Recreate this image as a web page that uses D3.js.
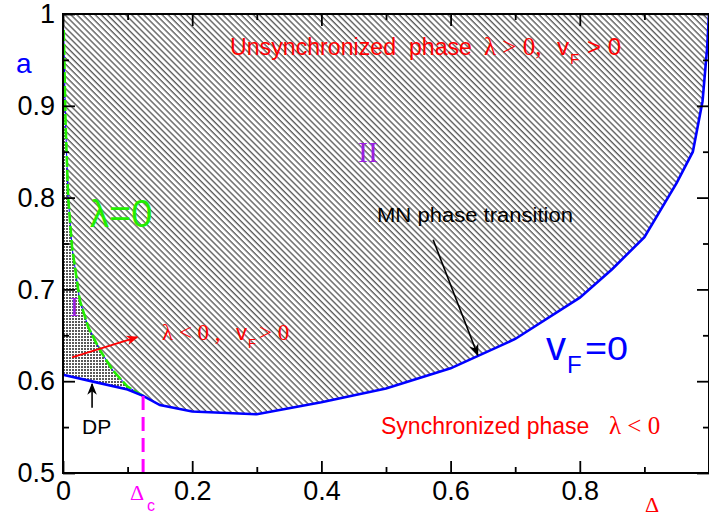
<!DOCTYPE html>
<html>
<head>
<meta charset="utf-8">
<script src="https://cdn.jsdelivr.net/npm/d3@7"></script>
<style>
  body { margin: 0; background: #fff; }
  svg { display: block; }
  text { font-family: "Liberation Sans", Arial, sans-serif; }
  .serif { font-family: "Liberation Serif", "Times New Roman", serif; }
</style>
</head>
<body>
<div id="chart"></div>
<script>
// v_F = 0 boundary (blue)
const vfDelta = [0, 0.05, 0.1, 0.124, 0.15, 0.2, 0.3, 0.4, 0.5, 0.6, 0.7, 0.8, 0.85, 0.9, 0.95, 0.975, 0.99, 0.997, 1.0]
const vfA     = [0.607, 0.599, 0.591, 0.584, 0.574, 0.567, 0.564, 0.577, 0.592, 0.614, 0.646, 0.691, 0.722, 0.757, 0.816, 0.85, 0.905, 0.962, 1.0]

// lambda = 0 boundary (green dashed)
const lamDelta = [0.124, 0.1, 0.077, 0.057, 0.039, 0.026, 0.014, 0.008, 0.004, 0.002, 0.001]
const lamA     = [0.584, 0.594, 0.612, 0.634, 0.659, 0.688, 0.746, 0.80, 0.88, 0.95, 0.985]

const deltaC = 0.124

const xMajor = [0, 0.2, 0.4, 0.6, 0.8, 1.0]
const xMinor = [0.1, 0.3, 0.5, 0.7, 0.9]
const yMajor = [0.5, 0.6, 0.7, 0.8, 0.9, 1.0]
const yMinor = [0.55, 0.65, 0.75, 0.85, 0.95]

const W = 709, H = 516
const PLOT = { LEFT: 63, RIGHT: 709, TOP: 14, BOTTOM: 473 }

const svg = d3.select("#chart").append("svg")
    .attr("width", W)
    .attr("height", H)

const x = d3.scaleLinear().domain([0, 1]).range([PLOT.LEFT, PLOT.RIGHT])
const y = d3.scaleLinear().domain([0.5, 1]).range([PLOT.BOTTOM, PLOT.TOP])

const defs = svg.append("defs")

// diagonal hatch for region II
const hatch = defs.append("pattern")
    .attr("id", "hatch")
    .attr("patternUnits", "userSpaceOnUse")
    .attr("width", 4.3)
    .attr("height", 10)
    .attr("patternTransform", "rotate(-45)")
hatch.append("line")
    .attr("x1", 1).attr("x2", 1)
    .attr("y1", 0).attr("y2", 10)
    .attr("stroke", "#333")
    .attr("stroke-width", 1.1)

// fine dots for region I
const dots = defs.append("pattern")
    .attr("id", "dots")
    .attr("patternUnits", "userSpaceOnUse")
    .attr("width", 3)
    .attr("height", 3)
dots.append("rect").attr("width", 3).attr("height", 3).attr("fill", "#fff")
dots.append("rect").attr("width", 2).attr("height", 2).attr("fill", "#5a5a5a")

// arrow heads
const addMarker = (id, color) => {
    defs.append("marker")
        .attr("id", id)
        .attr("viewBox", "0 0 10 10")
        .attr("refX", 9).attr("refY", 5)
        .attr("markerWidth", 12).attr("markerHeight", 12)
        .attr("markerUnits", "userSpaceOnUse")
        .attr("orient", "auto")
        .append("path")
        .attr("d", "M0,1 L10,5 L0,9 L3,5 Z")
        .attr("fill", color)
}
addMarker("arrRed", "#ff0000")
addMarker("arrBlack", "#000")

const vfPts = vfDelta.map((d, i) => [d, vfA[i]])
const lamPts = lamDelta.map((d, i) => [d, lamA[i]])
const line = d3.line().x(d => x(d[0])).y(d => y(d[1]))

// region II: above the v_F=0 curve, right of the lambda=0 curve
const idxC = vfDelta.indexOf(deltaC)
const regionII = [[0, 1], [1, 1]]
    .concat(vfPts.slice(idxC).reverse())
    .concat(lamPts)
    .concat([[0, 1]])
svg.append("path")
    .attr("d", line(regionII))
    .attr("fill", "url(#hatch)")

// region I: between axis, v_F curve and lambda curve
const regionI = vfPts.slice(0, idxC + 1)
    .concat(lamPts.slice(1))
    .concat([[0, 1]])
svg.append("path")
    .attr("d", line(regionI))
    .attr("fill", "url(#dots)")

// thin blue under lambda line
svg.append("path")
    .attr("d", line(lamPts))
    .attr("fill", "none")
    .attr("stroke", "#0000ff")
    .attr("stroke-width", 1)

// lambda = 0 dashed green
svg.append("path")
    .attr("d", line(lamPts))
    .attr("fill", "none")
    .attr("stroke", "#22ee00")
    .attr("stroke-width", 2.6)
    .attr("stroke-dasharray", "11,3")

// v_F = 0 blue
svg.append("path")
    .attr("d", line(vfPts))
    .attr("fill", "none")
    .attr("stroke", "#0000ff")
    .attr("stroke-width", 2.6)

// Delta_c magenta dashed
svg.append("line")
    .attr("x1", x(deltaC)).attr("x2", x(deltaC))
    .attr("y1", y(vfA[idxC])).attr("y2", y(0.5))
    .attr("stroke", "#ff00ff")
    .attr("stroke-width", 3)
    .attr("stroke-dasharray", "14,7")

// axes (ticks inward)
const fmt = d => d === 0 ? "0" : d === 1 ? "1" : d3.format(".1f")(d)
const styleAxis = g => {
    g.select(".domain").remove()
    g.selectAll("line").attr("stroke", "#000").attr("stroke-width", 1.8)
    g.selectAll("text").attr("font-size", "27px").attr("fill", "#000")
        .attr("font-family", "'Liberation Sans', Arial, sans-serif")
}

svg.append("g")
    .attr("transform", `translate(0, ${PLOT.BOTTOM})`)
    .call(d3.axisBottom(x).tickValues(xMajor).tickSize(-12).tickPadding(8)
        .tickFormat(d => d === 1 ? "" : fmt(d)))
    .call(styleAxis)
svg.append("g")
    .attr("transform", `translate(0, ${PLOT.BOTTOM})`)
    .call(d3.axisBottom(x).tickValues(xMinor).tickSize(-6).tickFormat(""))
    .call(styleAxis)
svg.append("g")
    .attr("transform", `translate(0, ${PLOT.TOP})`)
    .call(d3.axisTop(x).tickValues(xMajor).tickSize(-12).tickFormat(""))
    .call(styleAxis)
svg.append("g")
    .attr("transform", `translate(0, ${PLOT.TOP})`)
    .call(d3.axisTop(x).tickValues(xMinor).tickSize(-6).tickFormat(""))
    .call(styleAxis)

svg.append("g")
    .attr("transform", `translate(${PLOT.LEFT}, 0)`)
    .call(d3.axisLeft(y).tickValues(yMajor).tickSize(-12).tickPadding(8).tickFormat(fmt))
    .call(styleAxis)
svg.append("g")
    .attr("transform", `translate(${PLOT.LEFT}, 0)`)
    .call(d3.axisLeft(y).tickValues(yMinor).tickSize(-6).tickFormat(""))
    .call(styleAxis)
svg.append("g")
    .attr("transform", `translate(${PLOT.RIGHT}, 0)`)
    .call(d3.axisRight(y).tickValues(yMajor).tickSize(-12).tickFormat(""))
    .call(styleAxis)
svg.append("g")
    .attr("transform", `translate(${PLOT.RIGHT}, 0)`)
    .call(d3.axisRight(y).tickValues(yMinor).tickSize(-6).tickFormat(""))
    .call(styleAxis)

// frame
svg.append("rect")
    .attr("x", PLOT.LEFT).attr("y", PLOT.TOP)
    .attr("width", PLOT.RIGHT - PLOT.LEFT)
    .attr("height", PLOT.BOTTOM - PLOT.TOP)
    .attr("fill", "none")
    .attr("stroke", "#000")
    .attr("stroke-width", 2)

// text helper
const label = (px, py, str, size, color, cls, extra) => {
    const t = svg.append("text")
        .attr("x", px).attr("y", py)
        .attr("font-size", size + "px")
        .attr("fill", color)
        .style("white-space", "pre")
        .text(str)
    if (cls) t.attr("class", cls)
    if (extra) extra(t)
    return t
}

// axis titles
label(16, 73, "a", 28, "#0000ff")
label(645, 512, "Δ", 22, "#ff0000", "serif")
label(130, 500, "Δ", 22, "#ff00ff", "serif")
label(147, 511, "c", 16, "#ff00ff")

// phase labels
label(230, 55, "Unsynchronized  phase", 23, "#ff0000", null, t => t.attr("textLength", 242).attr("lengthAdjust", "spacingAndGlyphs"))
label(484, 55, "λ > 0,", 25, "#ff0000", "serif")
label(557, 55, "v", 24, "#ff0000")
label(570, 64, "F", 15, "#ff0000")
label(587, 55, "> 0", 24, "#ff0000")

label(381, 434, "Synchronized phase", 23, "#ff0000")
label(609, 434, "λ < 0", 25, "#ff0000", "serif")

label(162, 340, "λ < 0 ,", 23, "#ff0000", "serif")
label(236, 340, "v", 22, "#ff0000")
label(248, 348, "F", 13, "#ff0000")
label(259, 340, "> 0", 23, "#ff0000", "serif")

label(377, 222, "MN phase transition", 20, "#000", null, t => t.attr("textLength", 196).attr("lengthAdjust", "spacingAndGlyphs"))
label(82, 434, "DP", 21, "#000")

label(90, 227, "λ=0", 38, "#22ee00")
label(546, 360, "v", 40, "#0000ff")
label(567, 373, "F", 24, "#0000ff")
label(585, 360, "=0", 34, "#0000ff", null, t => t.attr("textLength", 43).attr("lengthAdjust", "spacingAndGlyphs"))

label(74.5, 316, "I", 28, "#9b1fe0", "serif", t => t.attr("text-anchor", "middle"))
label(368, 162, "II", 30, "#9b1fe0", "serif", t => t.attr("text-anchor", "middle"))

// annotation arrows (data coordinates)
const arrow = (from, to, color, marker) => {
    svg.append("line")
        .attr("x1", x(from[0])).attr("y1", y(from[1]))
        .attr("x2", x(to[0])).attr("y2", y(to[1]))
        .attr("stroke", color)
        .attr("stroke-width", color === "#000" ? 1.6 : 2)
        .attr("marker-end", `url(#${marker})`)
}
arrow([0.014, 0.626], [0.115, 0.648], "#ff0000", "arrRed")
arrow([0.573, 0.754], [0.642, 0.6285], "#000", "arrBlack")
arrow([0.045, 0.571], [0.045, 0.597], "#000", "arrBlack")
</script>
</body>
</html>
